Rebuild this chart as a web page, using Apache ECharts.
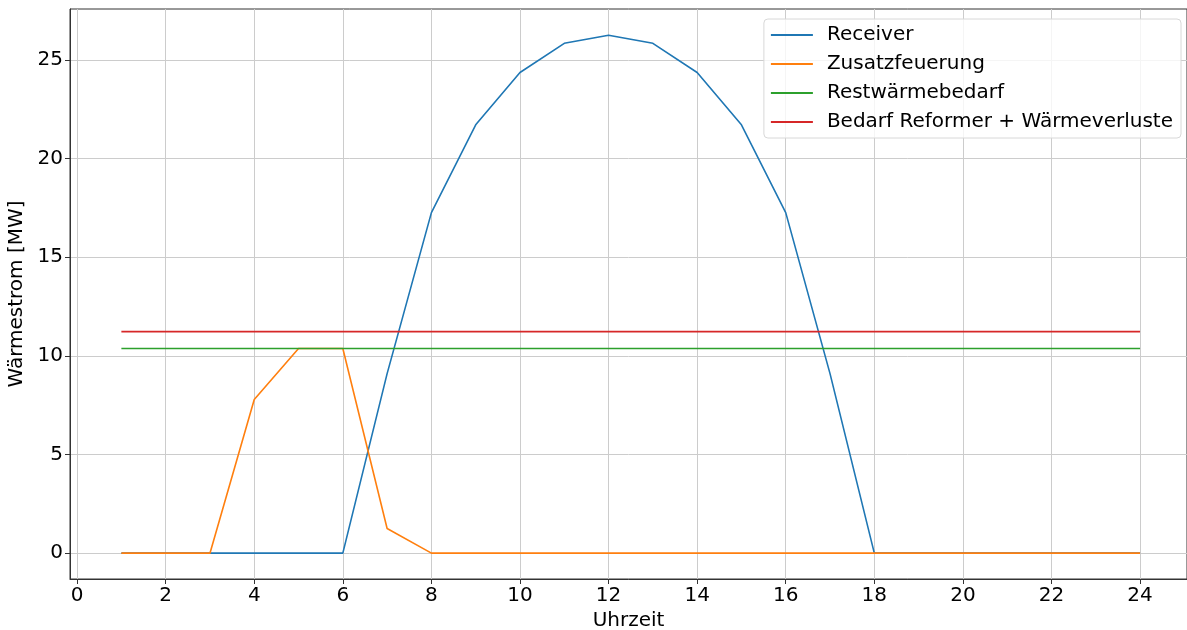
<!DOCTYPE html>
<html>
<head>
<meta charset="utf-8">
<script src="https://cdn.jsdelivr.net/npm/echarts@6/dist/echarts.min.js"></script>
<style>
  html, body { margin: 0; padding: 0; background: #fff; }
  #chart { width: 1187px; height: 630px; }
</style>
</head>
<body>
<div id="chart"></div>
<script>
  // Stunden des Tages
  var hours = [1,2,3,4,5,6,7,8,9,10,11,12,13,14,15,16,17,18,19,20,21,22,23,24];
  var receiver = [0,0,0,0,0,0,9.1,17.26,21.71,24.36,25.84,26.25,25.84,24.36,21.71,17.26,9.1,0,0,0,0,0,0,0];
  var zusatz = [0,0,0,7.79,10.37,10.37,1.25,0,0,0,0,0,0,0,0,0,0,0,0,0,0,0,0,0];
  var restwaerme = [10.37,10.37,10.37,10.37,10.37,10.37,10.37,10.37,10.37,10.37,10.37,10.37,10.37,10.37,10.37,10.37,10.37,10.37,10.37,10.37,10.37,10.37,10.37,10.37];
  var bedarf = [11.23,11.23,11.23,11.23,11.23,11.23,11.23,11.23,11.23,11.23,11.23,11.23,11.23,11.23,11.23,11.23,11.23,11.23,11.23,11.23,11.23,11.23,11.23,11.23];
  var xTicks = [0,2,4,6,8,10,12,14,16,18,20,22,24];
  var yTicks = [0,5,10,15,20,25];

  var seriesNames = ['Receiver', 'Zusatzfeuerung', 'Restwärmebedarf', 'Bedarf Reformer + Wärmeverluste'];
  var colorList = ['#1f77b4', '#ff7f0e', '#2ca02c', '#d62728'];
  var dataList = [receiver, zusatz, restwaerme, bedarf];

  function pairs(ys) {
    return hours.map(function(h, i) { return [h, ys[i]]; });
  }

  var chart = echarts.init(document.getElementById('chart'));
  var font = 'DejaVu Sans';
  var gridLine = { show: true, lineStyle: { color: '#cccccc', width: 1 } };

  chart.setOption({
    backgroundColor: '#fff',
    animation: false,
    color: colorList,
    grid: {
      left: 70, right: 0, top: 9, bottom: 51,
      outerBoundsMode: 'none',
      containLabel: false,
      show: true, borderColor: '#333', borderWidth: 1, backgroundColor: 'transparent'
    },
    legend: {
      right: 6, top: 19,
      orient: 'vertical',
      itemGap: 9,
      itemWidth: 42, itemHeight: 2,
      icon: 'rect',
      padding: [6, 8, 6, 7],
      backgroundColor: 'rgba(255,255,255,0.8)',
      borderColor: '#d8d8d8', borderWidth: 1, borderRadius: 4,
      textStyle: { fontFamily: font, fontSize: 20, color: '#000', padding: [0, 0, 0, 9] },
      data: seriesNames
    },
    xAxis: {
      type: 'value',
      min: -0.16, max: 25.06,
      name: 'Uhrzeit',
      nameLocation: 'middle',
      nameGap: 31,
      nameTextStyle: { fontFamily: font, fontSize: 20, color: '#000' },
      axisLine: { show: true, onZero: false, lineStyle: { color: '#333' } },
      axisTick: { show: true, inside: false, length: 5, lineStyle: { color: '#333' }, customValues: xTicks },
      axisLabel: { fontFamily: font, fontSize: 20, color: '#000', margin: 7, customValues: xTicks, showMinLabel: true, showMaxLabel: true },
      splitLine: gridLine
    },
    yAxis: {
      type: 'value',
      min: -1.31, max: 27.58,
      name: 'Wärmestrom [MW]',
      nameLocation: 'middle',
      nameGap: 40,
      nameRotate: 90,
      nameTextStyle: { fontFamily: font, fontSize: 20, color: '#000' },
      axisLine: { show: true, onZero: false, lineStyle: { color: '#333' } },
      axisTick: { show: true, inside: false, length: 5, lineStyle: { color: '#333' }, customValues: yTicks },
      axisLabel: { fontFamily: font, fontSize: 20, color: '#000', margin: 7, customValues: yTicks },
      splitLine: gridLine
    },
    series: seriesNames.map(function(name, i) {
      return {
        name: name,
        type: 'line',
        data: pairs(dataList[i]),
        showSymbol: false,
        symbol: 'none',
        lineStyle: { width: 1.6, color: colorList[i] },
        z: 2 + i
      };
    })
  });
</script>
</body>
</html>
